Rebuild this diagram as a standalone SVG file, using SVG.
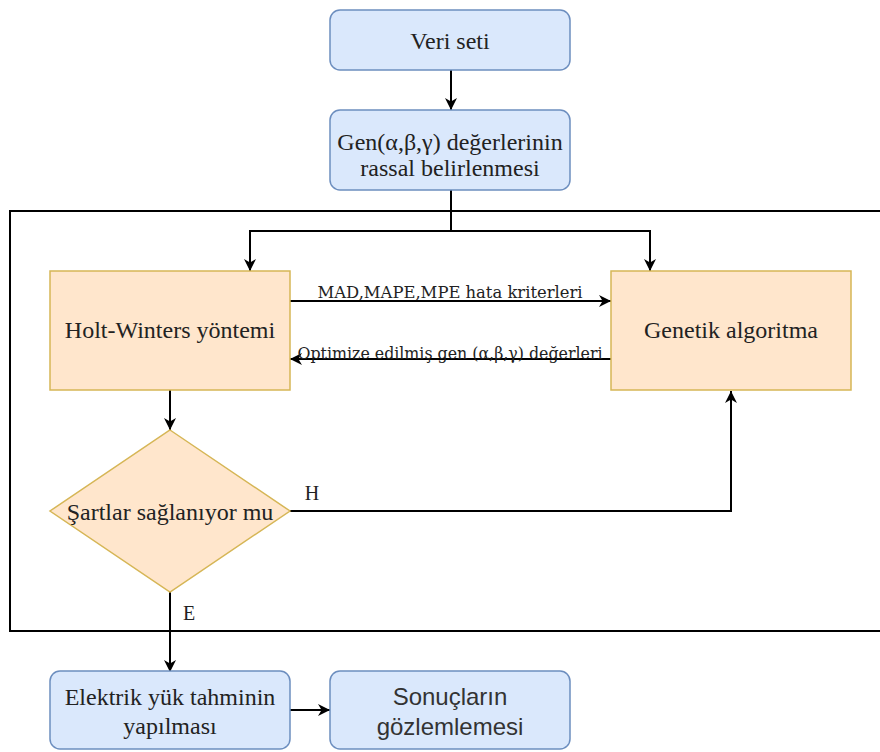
<svg xmlns="http://www.w3.org/2000/svg" width="880" height="752" viewBox="0 0 880 752">
<defs>
<marker id="arr" viewBox="0 0 10 10" refX="10" refY="5" markerWidth="6" markerHeight="6" markerUnits="strokeWidth" orient="auto">
<path d="M0,0 L10,5 L0,10 L3,5 z" fill="#000"/>
</marker>
<style>
.blue{fill:#dae8fc;stroke:#6c8ebf;stroke-width:1.5}
.orange{fill:#ffe6cc;stroke:#d6b656;stroke-width:1.5}
.t{font-family:"Liberation Serif","Times New Roman",serif;font-size:24px;fill:#222;text-anchor:middle}
.s{font-family:"Liberation Sans",Arial,sans-serif;font-size:24px;fill:#333;text-anchor:middle}
.lbl{font-family:"DejaVu Serif","Liberation Serif",serif;font-size:16px;fill:#222;text-anchor:middle}
.c{fill:none;stroke:#000;stroke-width:2}
.ca{fill:none;stroke:#000;stroke-width:2;marker-end:url(#arr)}
</style>
</defs>
<rect x="0" y="0" width="880" height="752" fill="#fff"/>
<rect id="container" x="10" y="211" width="880" height="420" fill="none" stroke="#000" stroke-width="2"/>
<g id="connectors">
<path class="ca" d="M451,70 L451,110"/>
<path class="c" d="M451,190 L451,231"/>
<path class="ca" d="M451,231 L250,231 L250,271"/>
<path class="ca" d="M451,231 L650,231 L650,271"/>
<path class="ca" d="M290,301 L611,301"/>
<path class="ca" d="M611,359 L290,359"/>
<path class="ca" d="M170,390 L170,430"/>
<path class="ca" d="M290,511 L731,511 L731,391"/>
<path class="ca" d="M170,592 L170,672"/>
<path class="ca" d="M290,710 L330,710"/>
<text class="lbl" x="450" y="298" textLength="265" lengthAdjust="spacingAndGlyphs">MAD,MAPE,MPE hata kriterleri</text>
<text class="lbl" x="450" y="359" textLength="305" lengthAdjust="spacingAndGlyphs">Optimize edilmiş gen (α,β,γ) değerleri</text>
<text class="t" x="312" y="500" style="font-size:20px">H</text>
<text class="t" x="189" y="620" style="font-size:20px">E</text>
</g>
<g id="veri">
<rect class="blue" x="330" y="10" width="240" height="60" rx="10"/>
<text class="t" x="450" y="49">Veri seti</text>
</g>
<g id="gen">
<rect class="blue" x="330" y="110" width="240" height="80" rx="10"/>
<text class="t" x="450" y="150">Gen(α,β,γ) değerlerinin</text>
<text class="t" x="450" y="176">rassal belirlenmesi</text>
</g>
<g id="holt">
<rect class="orange" x="50" y="271" width="240" height="119"/>
<text class="t" x="170" y="338">Holt-Winters yöntemi</text>
</g>
<g id="genetik">
<rect class="orange" x="611" y="271" width="240" height="119"/>
<text class="t" x="731" y="338">Genetik algoritma</text>
</g>
<g id="sartlar">
<polygon class="orange" points="170,430 290,511 170,592 50,511"/>
<text class="t" x="170" y="520">Şartlar sağlanıyor mu</text>
</g>
<g id="elektrik">
<rect class="blue" x="50" y="671" width="240" height="78" rx="10"/>
<text class="t" x="170" y="705">Elektrik yük tahminin</text>
<text class="t" x="170" y="734">yapılması</text>
</g>
<g id="sonuc">
<rect class="blue" x="330" y="671" width="240" height="78" rx="10"/>
<text class="s" x="450" y="705">Sonuçların</text>
<text class="s" x="450" y="735">gözlemlemesi</text>
</g>
</svg>
